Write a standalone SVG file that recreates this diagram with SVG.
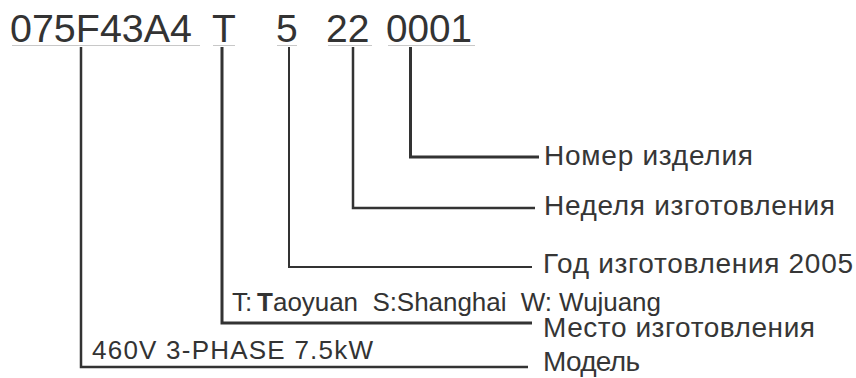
<svg xmlns="http://www.w3.org/2000/svg" width="856" height="378" viewBox="0 0 856 378">
<style>
.code{font-family:"Liberation Sans",Arial,sans-serif;font-size:39px;fill:#333}
.lbl{font-family:"Liberation Sans",Arial,sans-serif;font-size:28px;fill:#363636}
.sub{font-family:"Liberation Sans",Arial,sans-serif;font-size:26px;fill:#333;white-space:pre}
.b{font-weight:bold}
.ul{stroke:#c8c8c8;stroke-width:1;fill:none}
.ln{stroke:#333;fill:none;stroke-linejoin:miter;stroke-linecap:butt}
</style>
<rect width="856" height="378" fill="#fff"/>
<g id="code">
<text class="code" x="10" y="42" textLength="182" lengthAdjust="spacingAndGlyphs">075F43A4</text>
<text class="code" x="212" y="42">T</text>
<text class="code" x="276" y="42">5</text>
<text class="code" x="326" y="42">22</text>
<text class="code" x="386" y="42" textLength="86" lengthAdjust="spacingAndGlyphs">0001</text>
<path class="ul" d="M12 45.5H200M213 45.5H235M277 45.5H297M328 45.5H372M388 45.5H475"/>
</g>
<g id="connectors">
<path class="ln" stroke-width="3" d="M410.5 47V157H539"/>
<path class="ln" stroke-width="2.5" d="M353 47V208H535"/>
<path class="ln" stroke-width="2" d="M289 47V267H532"/>
<path class="ln" stroke-width="3" d="M222 47V323H532"/>
<path class="ln" stroke-width="2.5" d="M81 47V367H528"/>
</g>
<g id="serial">
<text class="lbl" x="544" y="165" textLength="209" lengthAdjust="spacing">Номер изделия</text>
</g>
<g id="week">
<text class="lbl" x="544" y="215" textLength="291" lengthAdjust="spacing">Неделя изготовления</text>
</g>
<g id="year">
<text class="lbl" x="543" y="273" textLength="310" lengthAdjust="spacing">Год изготовления 2005</text>
</g>
<g id="place">
<text class="sub" x="232" y="311">T:</text>
<text class="sub b" x="257" y="311">T</text>
<text class="sub" xml:space="preserve" x="273" y="311" textLength="388" lengthAdjust="spacing">aoyuan  S:Shanghai  W: Wujuang</text>
<text class="lbl" x="543" y="337" textLength="272" lengthAdjust="spacing">Место изготовления</text>
</g>
<g id="model">
<text class="sub" x="92" y="359" textLength="281" lengthAdjust="spacing">460V 3-PHASE 7.5kW</text>
<text class="lbl" x="543" y="371" textLength="97" lengthAdjust="spacing">Модель</text>
</g>
</svg>
